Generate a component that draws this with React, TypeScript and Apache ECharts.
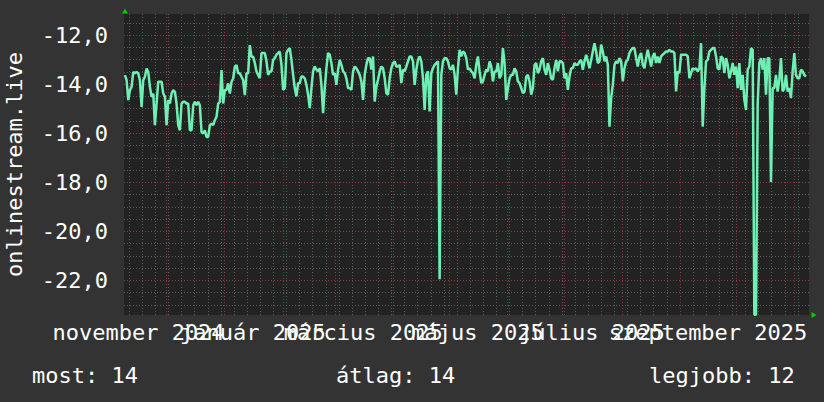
import { useEffect, useRef } from 'react';
import * as echarts from 'echarts';

// ---- data (rank of onlinestream.live, plotted negated) ----
const seg1 = [
  -13.63, -13.84, -14.65, -14.24, -14.11, -13.5, -13.56, -13.5, -13.56, -13.84,
  -14.93, -13.84, -13.7, -13.36, -13.5, -14.11, -14.52, -14.38, -15.67, -14.79,
  -13.9, -13.9, -13.9, -14.38, -14.52, -15.67, -14.65, -14.79, -14.38, -14.24,
  -14.31, -14.79, -15.67, -15.88, -14.79, -14.72, -14.72, -14.79, -14.79, -15.88,
  -15.88, -14.86, -14.72, -14.86, -14.72, -14.86, -15.95, -16.01, -15.88, -16.15,
  -16.15, -15.67, -15.61, -15.67, -15.47, -15.33, -14.79, -14.72, -13.43, -14.79,
  -14.24, -14.24, -13.97, -14.38, -13.9, -13.77, -13.29, -13.22, -13.56, -13.56,
  -13.7, -13.84, -14.45, -13.56, -13.56, -12.41, -12.88, -12.88,
];
const seg2 = [
  -13.14, -13.48, -13.62, -13.76, -12.73, -12.73, -12.73, -13.07, -13.62, -13.48,
  -13.48, -13.01, -12.94, -12.8, -12.73, -12.67, -13.21, -14.23, -14.16, -12.73,
  -12.6, -12.53, -13.01, -13.62, -14.16, -14.5, -13.96, -13.96, -13.69, -13.69,
  -13.76, -14.03, -14.43, -14.98, -14.16, -13.48, -13.28, -13.41, -13.48, -13.35,
  -14.03, -15.18, -14.16, -13.35, -12.73, -12.8, -13.14, -13.62, -13.55, -14.03,
  -13.41, -13.01, -13.21, -13.48, -13.55, -13.76, -14.16, -14.16, -14.23, -13.48,
  -13.28, -13.35, -13.48, -13.62, -13.89, -14.64, -13.62, -13.21, -12.94, -12.94,
  -13.41, -12.87, -14.71, -14.09, -13.82, -13.48, -13.28, -13.35, -13.76, -14.37,
  -14.43,
];
const seg3 = [
  -13.75, -13.35, -13.14, -13.07, -13.28, -13.28, -13.21, -13.96, -13.41, -13.48,
  -13.28, -13.07, -12.87, -12.87, -13.07, -14.03, -13.41, -13.01, -12.87, -13.07,
  -13.76,
  -15.05, -13.62, -13.48, -15.11, -13.55, -13.35, -13.21, -13.14, -13.07, -21.95,
  -13.62, -13.07, -12.94, -12.94, -13.07, -13.35, -13.41, -13.21, -13.62, -14.43,
  -13.35, -12.6, -12.87, -12.67, -12.73, -12.94, -13.41, -13.35, -13.48, -13.55,
  -13.76, -13.21, -12.87, -13.48, -13.96, -13.89, -13.62, -13.41, -13.48, -13.07,
  -13.28, -13.89, -13.48, -13.48, -13.14, -13.76, -13.62, -12.53, -13.14, -14.64,
  -14.16, -13.76, -13.62, -13.62, -13.35, -13.48, -13.89, -13.96, -14.16, -14.37,
];
const seg4 = [
  -14.3, -13.69, -13.62, -13.89, -14.43, -14.16, -13.21, -13.14, -13.55, -13.41,
  -13.07, -12.94, -13.41, -13.62, -13.14, -13.41, -13.76, -13.82, -13.35, -13.01,
  -13.48, -13.07, -13.07, -13.14, -13.76, -13.55, -14.23, -13.69, -13.35, -13.35,
  -13.14, -13.21, -13.21, -13.07, -13.01, -13.41, -13.07, -12.8, -13.07, -13.35,
  -13.01, -12.67, -12.33, -12.67, -13.14, -13.07, -12.39, -12.67, -13.07, -12.87,
  -13.21, -15.73, -14.57, -14.03, -13.21, -13.07, -13.14, -12.94, -13.07, -13.89,
  -13.35, -13.07, -13.01, -12.73, -12.6, -12.53, -12.53, -12.94, -13.28, -12.87,
  -12.73, -13.21, -13.35, -12.94, -12.6, -12.94, -13.28, -12.87, -12.73, -13.14,
  -12.87,
];
const seg5 = [
  -13.14, -12.87, -12.8, -12.73, -12.67, -12.67, -12.6, -12.67, -12.67, -12.73,
  -14.3, -13.48, -13.55, -12.8, -12.8, -12.8, -12.8, -12.87, -13.76, -13.55,
  -13.35, -13.41, -13.35, -13.48, -13.35, -12.33,
  -15.73, -14.16, -13.07, -13.01, -12.67, -12.6, -12.53, -12.53, -12.87, -13.35,
  -13.41, -12.87, -12.94, -13.55, -12.94, -13.21, -13.76, -13.48, -13.14, -13.62,
  -13.28, -14.16, -13.14, -14.23, -13.62, -14.64, -15.05, -13.41, -13.28, -12.53,
  -12.6,
  -23.4, -23.4,
  -14.84, -13.14, -12.94, -13.41, -12.94, -14.43, -12.94, -12.94,
  -17.99,
  -14.16, -14.16, -13.62, -14.3, -13.82, -12.94, -14.3, -14.16, -13.62, -14.3,
  -14.16, -14.57, -13.48, -12.73, -13.62, -13.76, -13.76, -13.41, -13.48, -13.62,
  -13.69,
];
const values = [...seg1, ...seg2, ...seg3, ...seg4, ...seg5];

const firstSample = Date.UTC(2024, 10, 8, 18);
const lastSample = Date.UTC(2025, 10, 7, 7);
const axisStart = Date.UTC(2024, 10, 8, 6);
const axisEnd = Date.UTC(2025, 10, 8, 22);

const yMin = -23.41;
const yMax = -11.14;
const yTicks = [-22, -20, -18, -16, -14, -12];
const yMinorStep = 0.5;
const yMajorStep = 2;

const xLabelMonths: [number, number][] = [
  [2024, 10], [2025, 0], [2025, 2], [2025, 4], [2025, 6], [2025, 8],
];
const xLabelTexts = [
  'november 2024', 'január 2025', 'március 2025', 'május 2025', 'július 2025', 'szeptember 2025',
];

const titleText = 'onlinestream.live';
const legendNames = ['most', 'átlag', 'legjobb'];

const FONT = '"DejaVu Sans Mono", monospace';
const DAY = 86400000;

export default function App() {
  const ref = useRef<HTMLDivElement>(null);
  useEffect(() => {
    document.body.style.margin = '0';
    if (!ref.current) return;
    const chart = echarts.init(ref.current, undefined, { renderer: 'svg' });

    const n = values.length;
    const step = (lastSample - firstSample) / (n - 1);
    const lineData = values.map((v, i) => [firstSample + i * step, v]);

    const minorStyle = { color: '#5c5c5c', type: [1, 2], width: 1 };
    const majorStyle = { color: '#8a3c3c', type: [1, 2], width: 1 };
    const grid: any[] = [];
    for (let v = Math.ceil(yMin / yMinorStep) * yMinorStep; v <= yMax; v += yMinorStep) {
      if (Math.abs(v / yMajorStep - Math.round(v / yMajorStep)) > 1e-6)
        grid.push({ yAxis: v, lineStyle: minorStyle });
    }
    for (let t = Date.UTC(2024, 10, 11); t <= axisEnd; t += 7 * DAY) {
      if (t >= axisStart) grid.push({ xAxis: t, lineStyle: minorStyle });
    }
    for (let v = Math.ceil(yMin / yMajorStep) * yMajorStep; v <= yMax; v += yMajorStep) {
      grid.push({ yAxis: v, lineStyle: majorStyle });
    }
    for (let y = 2024, m = 11; ; m++) {
      if (m > 11) { m = 0; y++; }
      const t = Date.UTC(y, m, 1);
      if (t > axisEnd) break;
      if (t >= axisStart) grid.push({ xAxis: t, lineStyle: majorStyle });
    }

    const labelTimes = xLabelMonths.map(([y, m]) => Date.UTC(y, m, 1) + 15 * DAY);

    const most = Math.round(-values[n - 1]);
    const avg = Math.round(-values.reduce((a, b) => a + b, 0) / n);
    const best = Math.round(-Math.max(...values));
    const legendVals = [most, avg, best];
    const legendX = [32, 336, 649];

    const baseGraphic: any[] = [
      {
        type: 'text', x: 14, y: 164.5, rotation: Math.PI / 2,
        style: { text: titleText, fill: '#ffffff', font: `22px ${FONT}`, align: 'center', verticalAlign: 'middle' },
      },
      ...legendNames.map((name, i) => ({
        type: 'text', x: legendX[i], y: 375,
        style: { text: `${name}: ${legendVals[i]}`, fill: '#ffffff', font: `22px ${FONT}`, align: 'left', verticalAlign: 'middle' },
      })),
      { type: 'polygon', shape: { points: [[125, 8.5], [122, 13.5], [128, 13.5]] }, style: { fill: '#00cc00' } },
      { type: 'polygon', shape: { points: [[816.5, 315], [811.5, 312], [811.5, 318]] }, style: { fill: '#00cc00' } },
    ];

    chart.setOption({
      animation: false,
      backgroundColor: '#333333',
      grid: {
        left: 124, top: 14, width: 685, height: 301,
        show: true, backgroundColor: '#222222', borderWidth: 0,
        containLabel: false, outerBoundsMode: 'none',
      },
      xAxis: {
        type: 'value', min: axisStart, max: axisEnd,
        axisLine: { show: false }, axisTick: { show: false }, splitLine: { show: false },
        axisLabel: { show: false },
      },
      yAxis: {
        type: 'value', min: yMin, max: yMax,
        axisLine: { show: false }, axisTick: { show: false }, splitLine: { show: false },
        axisLabel: {
          customValues: yTicks,
          formatter: (v: number) => v.toFixed(1).replace('.', ','),
          color: '#ffffff', fontFamily: FONT, fontSize: 22, margin: 16,
          showMinLabel: true, showMaxLabel: true,
        },
      },
      series: [
        {
          type: 'line', data: lineData, showSymbol: false, z: 3,
          lineStyle: { color: '#6ef0b4', width: 2.5 },
          silent: true,
          markLine: {
            silent: true, z: 1, symbol: ['none', 'none'], label: { show: false },
            emphasis: { disabled: true }, animation: false,
            data: grid,
          },
        },
      ],
      graphic: baseGraphic,
    });

    // x-axis labels placed through the axis scale
    const bottomPx = chart.convertToPixel({ yAxisIndex: 0 }, yMin) as number;
    const xLabels = labelTimes.map((t, i) => ({
      type: 'text',
      x: chart.convertToPixel({ xAxisIndex: 0 }, t) as number,
      y: bottomPx + 6,
      style: { text: xLabelTexts[i], fill: '#ffffff', font: `22px ${FONT}`, align: 'center', verticalAlign: 'top' },
    }));
    chart.setOption({ graphic: [...baseGraphic, ...xLabels] }, { replaceMerge: ['graphic'] });

    return () => chart.dispose();
  }, []);
  return <div ref={ref} style={{ width: 824, height: 402, background: '#333333' }} />;
}
